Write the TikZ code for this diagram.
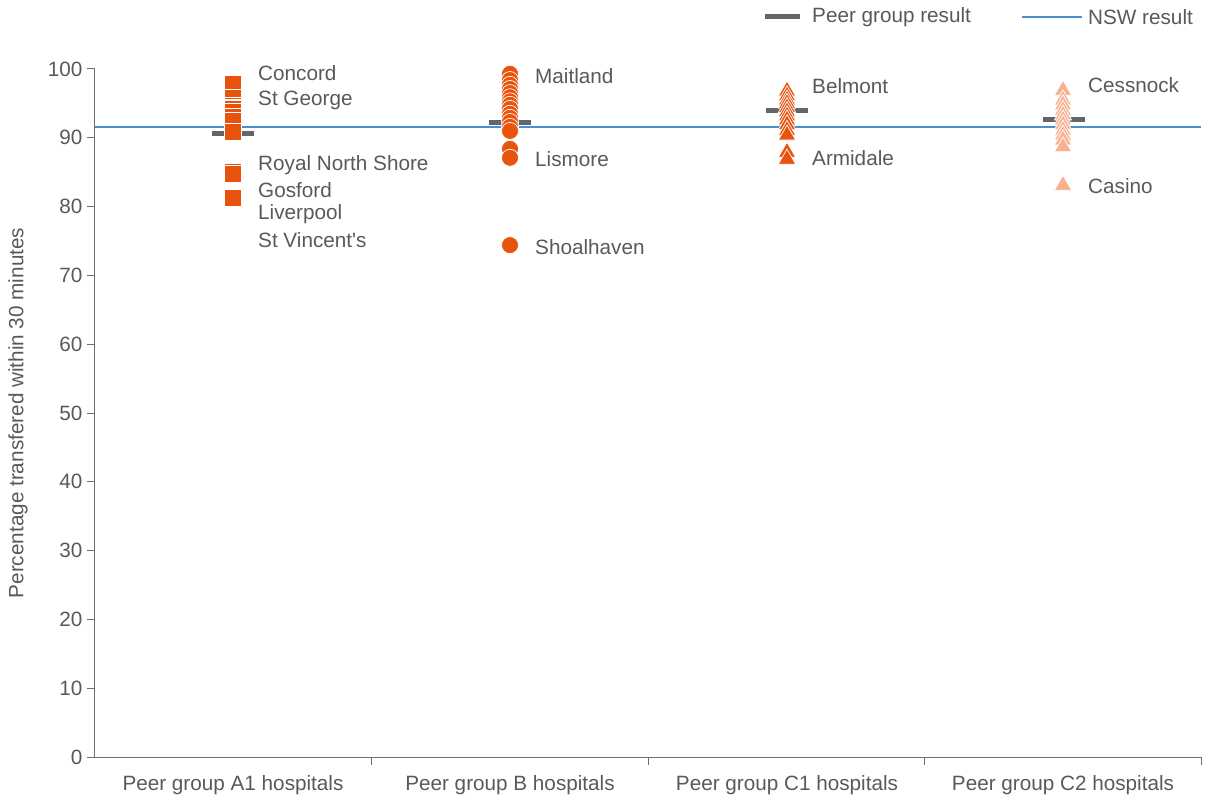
\documentclass[tikz,border=0pt]{standalone}
\usepackage{fontspec}
\setmainfont{Liberation Sans}[Ligatures=TeXOff]
\usetikzlibrary{shapes.geometric}
\definecolor{txtgray}{RGB}{89,89,89}
\definecolor{axisgray}{RGB}{110,110,110}
\definecolor{peerorange}{RGB}{232,84,14}
\definecolor{peerpeach}{RGB}{248,178,146}
\definecolor{nswblue}{RGB}{68,144,208}
\definecolor{dashgray}{RGB}{100,100,105}
\tikzset{
  txt/.style={text=txtgray,font=\fontsize{20.7}{24}\selectfont,inner sep=0pt},
  lbl/.style={txt,anchor=west},
  sqmark/.style={rectangle,minimum size=17pt,inner sep=0pt,fill=peerorange,draw=white,line width=0.7pt},
  dotmark/.style={circle,minimum size=17pt,inner sep=0pt,fill=peerorange,draw=white,line width=0.7pt},
  trimark/.style={regular polygon,regular polygon sides=3,minimum size=20pt,inner sep=0pt,fill=#1,draw=white,line width=0.7pt},
  peerdash/.style={dashgray,line width=5pt},
  nswline/.style={nswblue,line width=2.2pt}
}
\begin{document}
\begin{tikzpicture}[x=1pt,y=6.88pt]
    \useasboundingbox (-95,-5.96) rectangle (1115,110.03);
    % axes
    \draw [axisgray,line width=1pt] (0,100)--(0,0)--(1106,0);
    \foreach \v in {0,10,...,100}
    \draw [axisgray,line width=1pt] (-8,\v)--(0,\v) node [txt,anchor=east,xshift=-12pt] (tick\v) {\v};
    \foreach \x in {276.5,553,829.5,1106}
    \draw [axisgray,line width=1pt] (\x,0)--(\x,-1.16);
    \node [txt,rotate=90] (ytitle) at (-77,50) {Percentage transfered within 30 minutes};
    \node [txt] (catA1) at (138,-4.07) {Peer group A1 hospitals};
    \node [txt] (catB) at (415,-4.07) {Peer group B hospitals};
    \node [txt] (catC1) at (692,-4.07) {Peer group C1 hospitals};
    \node [txt] (catC2) at (968,-4.07) {Peer group C2 hospitals};
    % peer group results and NSW result
    \draw [peerdash] (117,90.6)--(159,90.6);
    \draw [peerdash] (394,92.2)--(436,92.2);
    \draw [peerdash] (671,94.0)--(713,94.0);
    \draw [peerdash] (948,92.6)--(990,92.6);
    \draw [nswline] (0,91.6)--(1106,91.6);
    % A1 hospitals
    \foreach \v in {97.8,95.8,94.7,94.4,94.2,93.8,93.1,92.4,90.8,85.1,84.8,81.3}
    \node [sqmark] at (138,\v) {};
    \node [lbl] (concord) at (163,99.4) {Concord};
    \node [lbl] (stgeorge) at (163,95.5) {St George};
    \node [lbl] (rns) at (163,86.0) {Royal North Shore};
    \node [lbl] (gosford) at (163,82.4) {Gosford};
    \node [lbl] (liverpool) at (163,78.9) {Liverpool};
    \node [lbl] (stvincent) at (163,75.1) {St Vincent's};
    % B hospitals
    \foreach \v in {99.3,98.4,97.7,97.1,96.5,95.9,95.3,94.8,94.2,93.5,92.9,92.3,91.6,91.0,88.4,87.1,74.4}
    \node [dotmark] at (415,\v) {};
    \node [lbl] (maitland) at (440,99.0) {Maitland};
    \node [lbl] (lismore) at (440,86.9) {Lismore};
    \node [lbl] (shoalhaven) at (440,74.1) {Shoalhaven};
    % C1 hospitals
    \foreach \v in {96.8,96.1,95.5,95.0,94.4,93.8,93.2,92.6,91.9,91.1,90.4,87.9,86.9}
    \node [trimark=peerorange] at (692,\v) {};
    \node [lbl] (belmont) at (717,97.5) {Belmont};
    \node [lbl] (armidale) at (717,87.1) {Armidale};
    % C2 hospitals
    \foreach \v in {96.9,95.5,94.8,94.0,93.3,92.6,91.9,91.1,90.4,89.7,88.7,83.1}
    \node [trimark=peerpeach] at (968,\v) {};
    \node [lbl] (cessnock) at (993,97.7) {Cessnock};
    \node [lbl] (casino) at (993,83.0) {Casino};
    % legend
    \draw [peerdash] (670,107.6)--(705,107.6);
    \node [lbl] (legpeer) at (717,107.5) {Peer group result};
    \draw [nswline] (927,107.6)--(987,107.6);
    \node [lbl] (legnsw) at (993,107.5) {NSW result};
\end{tikzpicture}
\end{document}
